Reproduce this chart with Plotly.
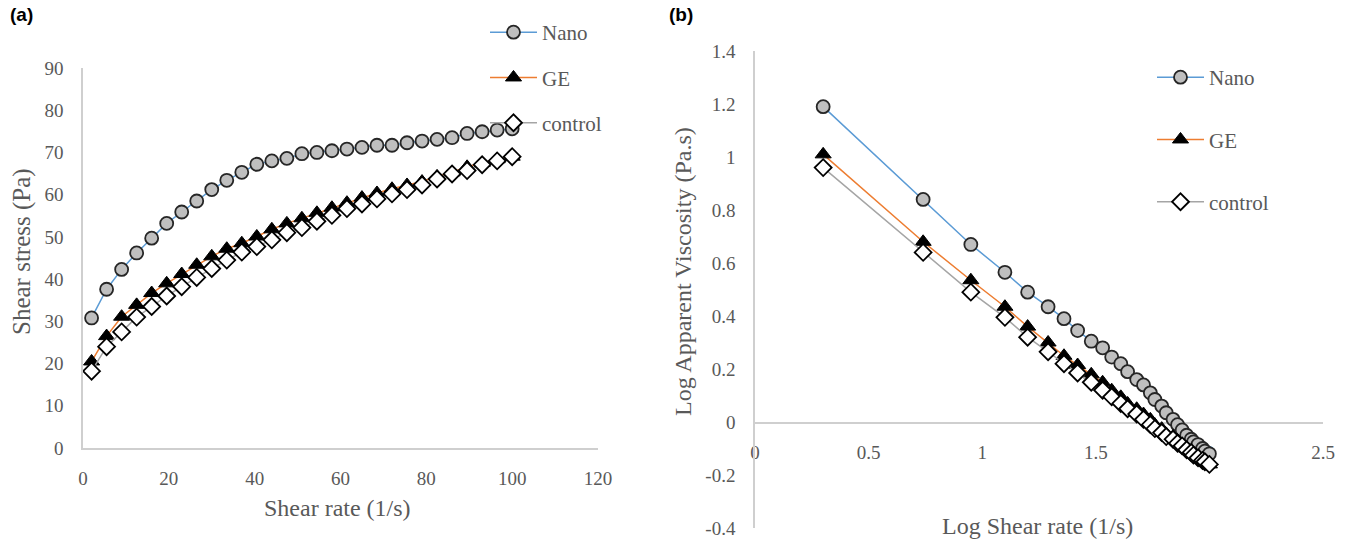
import plotly.graph_objects as go

# ---------------- data ----------------
shear_rate = [2, 5.5, 9, 12.5, 16, 19.5, 23, 26.5, 30, 33.5, 37, 40.5, 44, 47.5, 51,
              54.5, 58, 61.5, 65, 68.5, 72, 75.5, 79, 82.5, 86, 89.5, 93, 96.5, 100]
stress_nano = [30.8, 37.6, 42.3, 46.2, 49.7, 53.2, 55.9, 58.5, 61.2, 63.4, 65.3, 67.2, 68.0, 68.6, 69.7,
               70.0, 70.4, 70.8, 71.2, 71.7, 71.7, 72.3, 72.7, 73.1, 73.5, 74.5, 74.9, 75.3, 75.6]
stress_ge = [20.5, 26.5, 31.1, 33.9, 36.7, 39.0, 41.2, 43.4, 45.4, 47.2, 48.5, 50.1, 51.8, 53.2, 54.4,
             55.7, 56.9, 58.1, 59.3, 60.4, 61.4, 62.3, 63.1, 64.3, 65.3, 66.6, 67.5, 68.4, 69.0]
stress_control = [18.2, 24.0, 27.5, 31.0, 33.5, 36.0, 38.2, 40.4, 42.5, 44.5, 46.4, 47.7, 49.3, 51.0, 52.2,
                  53.7, 55.1, 56.7, 57.8, 59.0, 60.2, 61.2, 62.3, 63.7, 64.9, 65.7, 67.1, 68.0, 69.0]

log_rate = [0.30, 0.74, 0.95, 1.10, 1.20, 1.29, 1.36, 1.42, 1.48, 1.53, 1.57, 1.61, 1.64, 1.68, 1.71,
            1.74, 1.76, 1.79, 1.81, 1.84, 1.86, 1.88, 1.90, 1.92, 1.93, 1.95, 1.97, 1.98, 2.00]
logvisc_nano = [1.19, 0.84, 0.67, 0.565, 0.49, 0.435, 0.39, 0.345, 0.305, 0.28, 0.245, 0.22, 0.19, 0.16, 0.14,
                0.11, 0.085, 0.06, 0.035, 0.01, -0.01, -0.03, -0.05, -0.065, -0.075, -0.085, -0.10, -0.11, -0.12]
logvisc_ge = [1.01, 0.68, 0.535, 0.435, 0.36, 0.30, 0.25, 0.215, 0.18, 0.15, 0.12, 0.095, 0.07, 0.05, 0.03,
              0.01, -0.01, -0.025, -0.045, -0.055, -0.07, -0.085, -0.10, -0.11, -0.12, -0.13, -0.14, -0.15, -0.16]
logvisc_control = [0.96, 0.64, 0.49, 0.395, 0.32, 0.265, 0.22, 0.185, 0.15, 0.12, 0.095, 0.07, 0.05, 0.03, 0.01,
                   -0.01, -0.025, -0.04, -0.055, -0.065, -0.08, -0.09, -0.105, -0.115, -0.125, -0.135, -0.145, -0.15, -0.16]

series_names = ["Nano", "GE", "control"]
left_xticks = [0, 20, 40, 60, 80, 100, 120]
left_yticks = [0, 10, 20, 30, 40, 50, 60, 70, 80, 90]
right_xticks = [0, 0.5, 1, 1.5, 2, 2.5]
right_xticktext = ["0", "0.5", "1", "1.5", "2", "2.5"]
right_yticks = [-0.4, -0.2, 0, 0.2, 0.4, 0.6, 0.8, 1, 1.2, 1.4]
right_yticktext = ["-0.4", "-0.2", "0", "0.2", "0.4", "0.6", "0.8", "1", "1.2", "1.4"]

# ---------------- styling ----------------
W, H = 1349, 543
SERIF = "Liberation Serif, Times New Roman, serif"
TXT = "#595959"
AXC = "#CFCFCF"

styles = {
    "Nano": dict(line=dict(color="#5B9BD5", width=1.5),
                 marker=dict(symbol="circle", size=13, color="#BFBFBF",
                             line=dict(color="#262626", width=1.8))),
    "GE": dict(line=dict(color="#ED7D31", width=1.5),
               marker=dict(symbol="triangle-up", size=14, color="#000000",
                           line=dict(color="#000000", width=1))),
    "control": dict(line=dict(color="#A5A5A5", width=1.5),
                    marker=dict(symbol="diamond", size=13, color="#FFFFFF",
                                line=dict(color="#000000", width=1.8))),
}

def px_x(p):
    return p / W

def px_y(p):
    return 1 - p / H

fig = go.Figure()

left_vals = [stress_nano, stress_ge, stress_control]
right_vals = [logvisc_nano, logvisc_ge, logvisc_control]
for i, name in enumerate(series_names):
    fig.add_trace(go.Scatter(x=shear_rate, y=left_vals[i], mode="lines+markers", name=name,
                             xaxis="x", yaxis="y", legend="legend", legendgroup="a" + name,
                             **styles[name]))
for i, name in enumerate(series_names):
    fig.add_trace(go.Scatter(x=log_rate, y=right_vals[i], mode="lines+markers", name=name,
                             xaxis="x2", yaxis="y2", legend="legend2", legendgroup="b" + name,
                             **styles[name]))

tickfont = dict(family=SERIF, size=19, color=TXT)
titlefont = dict(family=SERIF, size=24, color=TXT)

fig.update_layout(
    width=W, height=H,
    margin=dict(l=0, r=0, t=0, b=0, autoexpand=False),
    paper_bgcolor="white", plot_bgcolor="white",
    showlegend=True,
    xaxis=dict(domain=[px_x(83), px_x(598)], range=[0, 120], tickvals=left_xticks,
               showgrid=False, zeroline=False, showline=True, linecolor=AXC, linewidth=1.5,
               ticks="", tickfont=tickfont, ticklabelstandoff=12, anchor="y"),
    yaxis=dict(domain=[px_y(448), px_y(68)], range=[0, 90], tickvals=left_yticks,
               showgrid=False, zeroline=False, showline=True, linecolor=AXC, linewidth=1.5,
               ticks="", tickfont=tickfont, ticklabelstandoff=14, anchor="x"),
    xaxis2=dict(domain=[px_x(755), px_x(1323)], range=[0, 2.5], tickvals=right_xticks,
                ticktext=right_xticktext,
                showgrid=False, zeroline=False, showline=True, linecolor=AXC, linewidth=1.5,
                ticks="", tickfont=tickfont, ticklabelstandoff=12,
                anchor="free", position=px_y(423), layer="below traces"),
    yaxis2=dict(domain=[px_y(528), px_y(51)], range=[-0.4, 1.4], tickvals=right_yticks,
                ticktext=right_yticktext,
                showgrid=False, zeroline=False, showline=True, linecolor=AXC, linewidth=1.5,
                ticks="", tickfont=tickfont, ticklabelstandoff=14, anchor="x2"),
    legend=dict(x=px_x(485), y=px_y(12), xanchor="left", yanchor="top",
                bgcolor="rgba(0,0,0,0)", font=dict(family=SERIF, size=21, color=TXT),
                itemwidth=47, tracegroupgap=15, traceorder="grouped"),
    legend2=dict(x=px_x(1152), y=px_y(57), xanchor="left", yanchor="top",
                 bgcolor="rgba(0,0,0,0)", font=dict(family=SERIF, size=21, color=TXT),
                 itemwidth=47, tracegroupgap=32, traceorder="grouped"),
)

annotations = [
    dict(text="<b>(a)</b>", x=px_x(8), y=px_y(14), xanchor="left", yanchor="middle",
         font=dict(family="Liberation Sans, Arial, sans-serif", size=19, color="#000000")),
    dict(text="<b>(b)</b>", x=px_x(667), y=px_y(14), xanchor="left", yanchor="middle",
         font=dict(family="Liberation Sans, Arial, sans-serif", size=19, color="#000000")),
    dict(text="Shear rate (1/s)", x=px_x(337), y=px_y(508), xanchor="center", yanchor="middle",
         font=titlefont),
    dict(text="Shear stress (Pa)", x=px_x(22), y=px_y(252), xanchor="center", yanchor="middle",
         textangle=-90, font=dict(family=SERIF, size=25, color=TXT)),
    dict(text="Log Shear rate (1/s)", x=px_x(1037), y=px_y(526), xanchor="center", yanchor="middle",
         font=titlefont),
    dict(text="Log Apparent Viscosity (Pa.s)", x=px_x(683), y=px_y(272), xanchor="center",
         yanchor="middle", textangle=-90, font=titlefont),
]
for a in annotations:
    a.update(xref="paper", yref="paper", showarrow=False)
fig.update_layout(annotations=annotations)

fig.write_html("out.html", config={"displayModeBar": False},
               post_script="document.body.style.margin='0';document.body.style.overflow='hidden';")
